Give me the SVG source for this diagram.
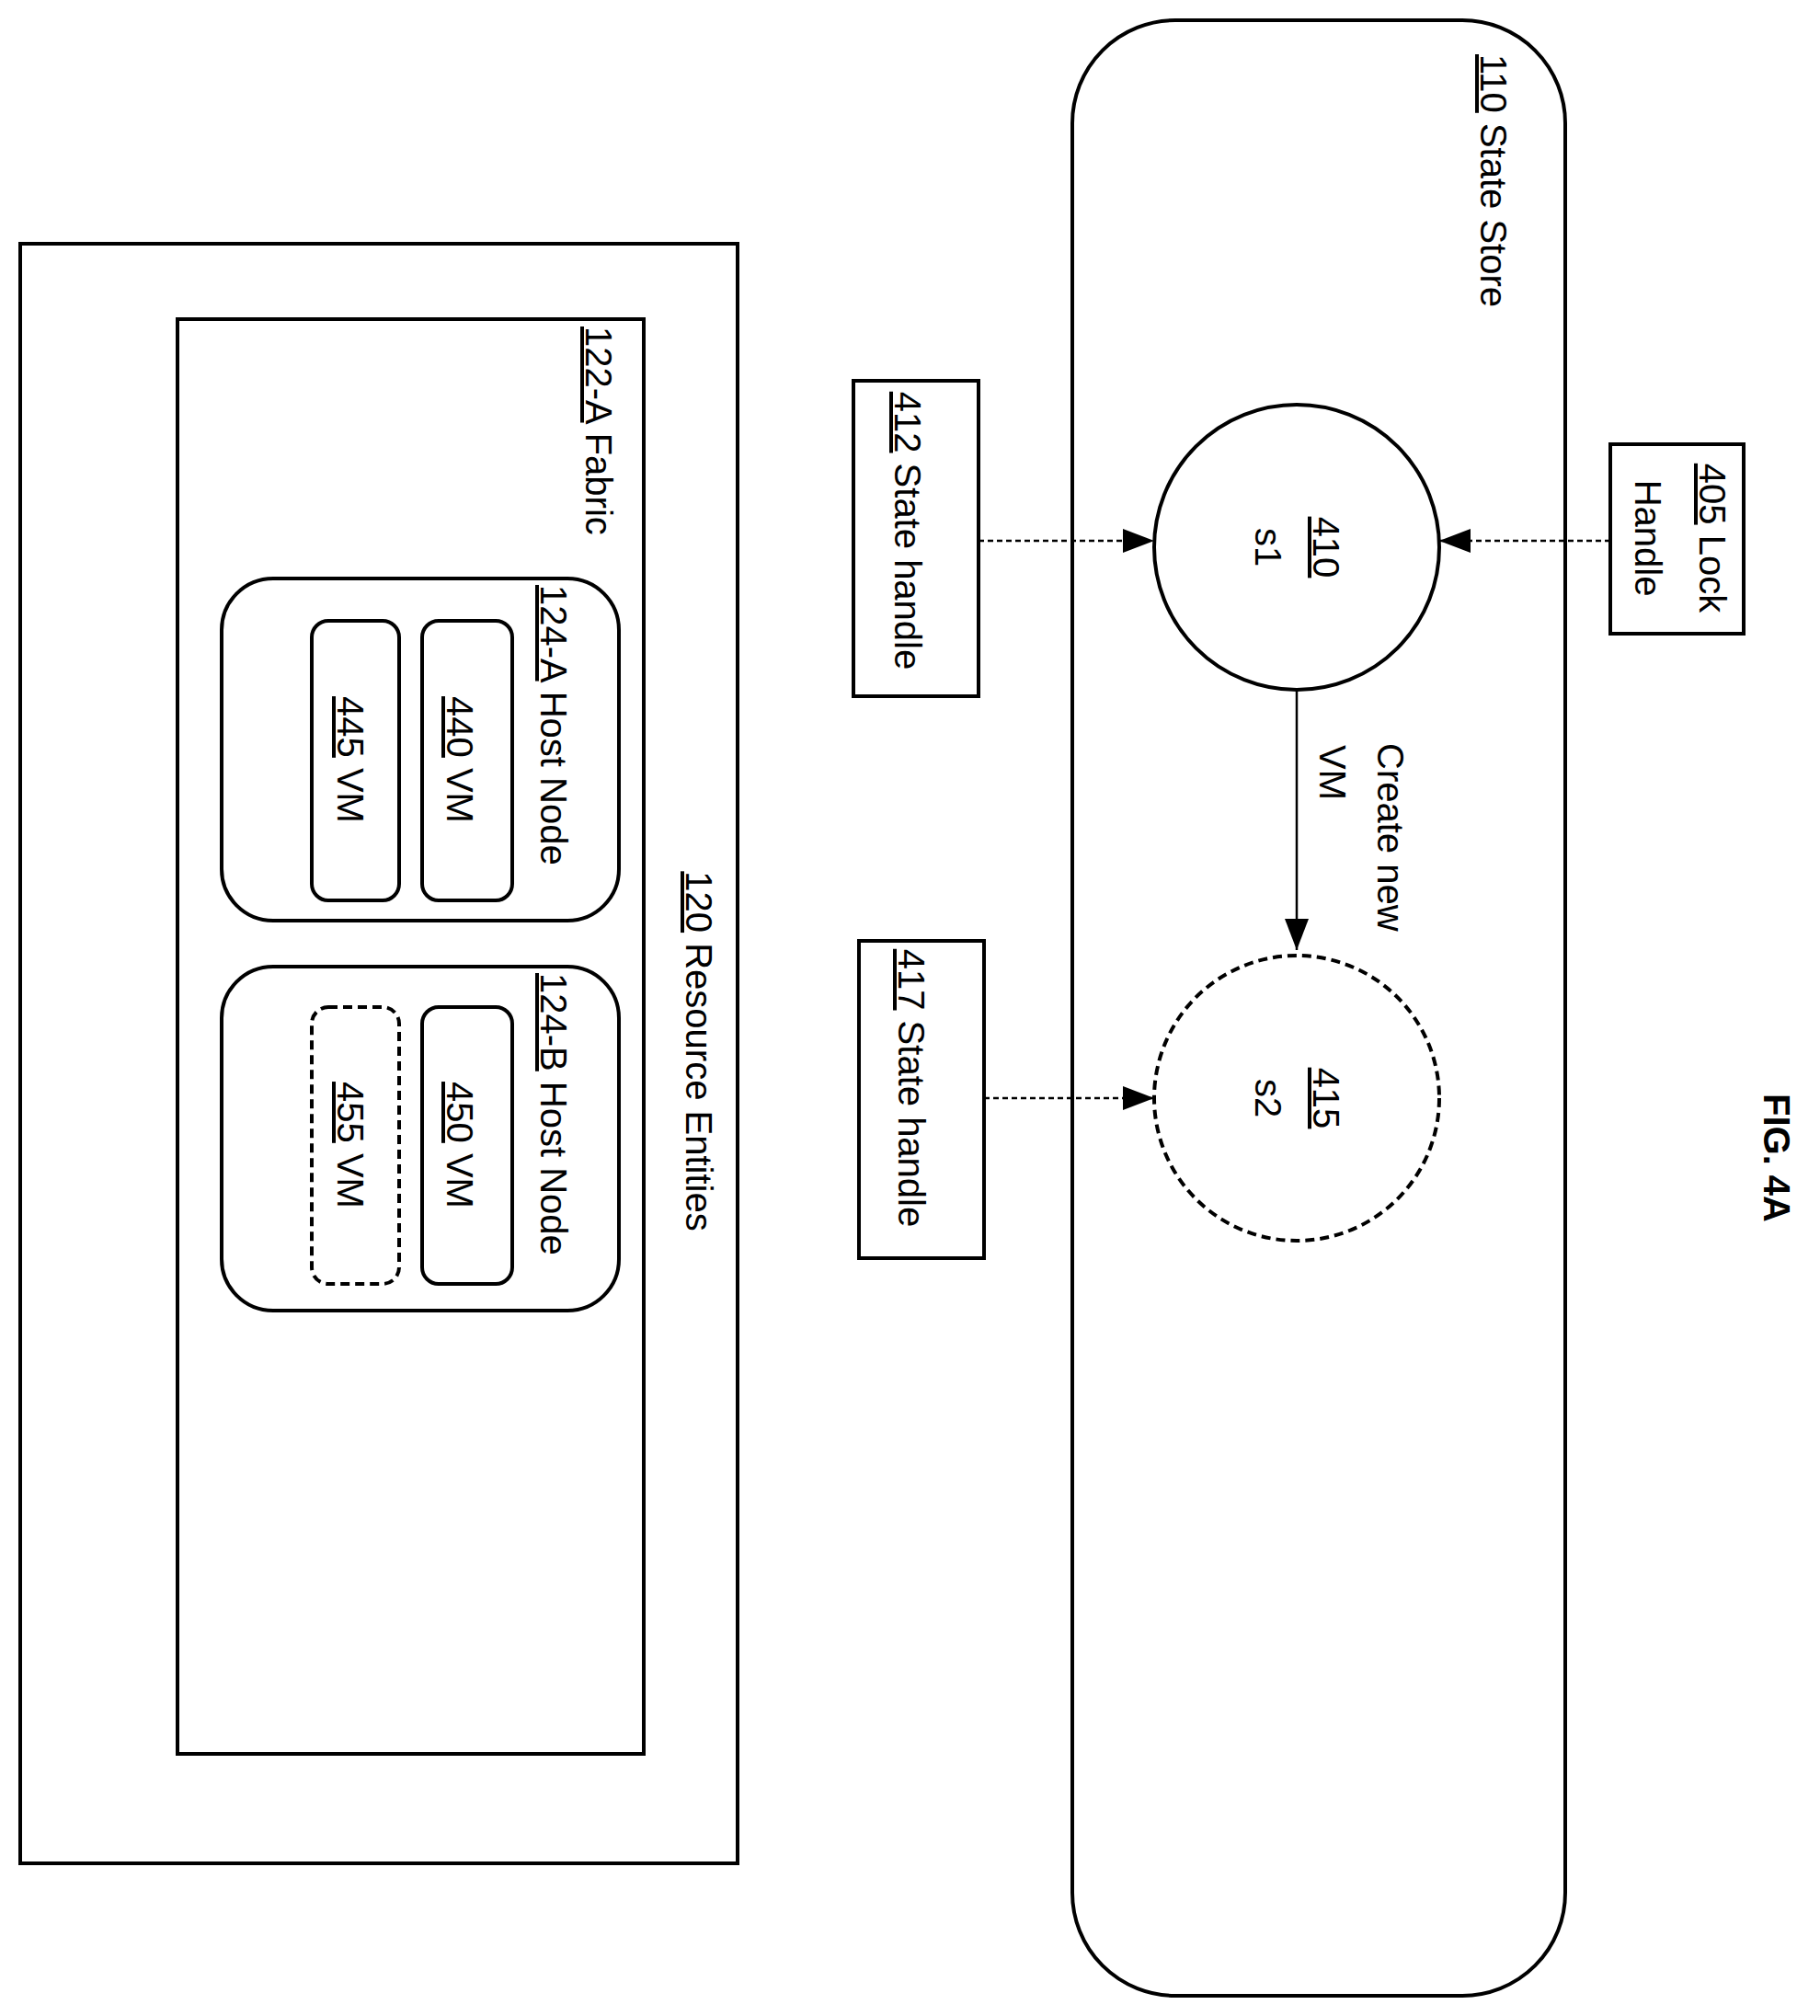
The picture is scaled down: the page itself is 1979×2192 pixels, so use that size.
<svg xmlns="http://www.w3.org/2000/svg" width="1979" height="2192" viewBox="0 0 1979 2192">
<defs>
<style>
.b{fill:none;stroke:#000;stroke-width:4}
.d{stroke-dasharray:10 6}
.t{font-family:"Liberation Sans",Arial,sans-serif;font-size:40px;fill:#000}
.u{text-decoration:underline}
.c{stroke:#000;stroke-width:2.5;fill:none}
</style>
<marker id="a" markerWidth="12" markerHeight="10" refX="12" refY="5" orient="auto" markerUnits="userSpaceOnUse" viewBox="0 0 12 10"><path d="M0,0L12,5L0,10z" fill="#000"/></marker>
<marker id="A" markerWidth="34" markerHeight="26" refX="34" refY="13" orient="auto" markerUnits="userSpaceOnUse" viewBox="0 0 34 26"><path d="M0,0L34,13L0,26z" fill="#000"/></marker>
</defs>
<rect width="1979" height="2192" fill="#fff"/>
<g id="n120"><rect class="b" x="22" y="265" width="780" height="1761"/>
<text class="t" transform="translate(746,1143) rotate(90)" text-anchor="middle"><tspan class="u">120</tspan> Resource Entities</text></g>
<g id="n122A"><rect class="b" x="193" y="347" width="507" height="1560"/>
<text class="t" transform="translate(637,355) rotate(90)"><tspan class="u">122-A</tspan> Fabric</text></g>
<g id="n124A"><rect class="b" x="241" y="629" width="432" height="372" rx="56"/>
<text class="t" transform="translate(588,636) rotate(90)"><tspan class="u">124-A</tspan> Host Node</text></g>
<g id="n440"><rect class="b" x="459" y="675" width="98" height="304" rx="18"/>
<text class="t" transform="translate(486,826) rotate(90)" text-anchor="middle"><tspan class="u">440</tspan> VM</text></g>
<g id="n445"><rect class="b" x="339" y="675" width="95" height="304" rx="18"/>
<text class="t" transform="translate(367,826) rotate(90)" text-anchor="middle"><tspan class="u">445</tspan> VM</text></g>
<g id="n124B"><rect class="b" x="241" y="1051" width="432" height="374" rx="56"/>
<text class="t" transform="translate(588,1058) rotate(90)"><tspan class="u">124-B</tspan> Host Node</text></g>
<g id="n450"><rect class="b" x="459" y="1095" width="98" height="301" rx="18"/>
<text class="t" transform="translate(486,1245) rotate(90)" text-anchor="middle"><tspan class="u">450</tspan> VM</text></g>
<g id="n455"><rect class="b d" x="339" y="1095" width="95" height="301" rx="18"/>
<text class="t" transform="translate(367,1245) rotate(90)" text-anchor="middle"><tspan class="u">455</tspan> VM</text></g>
<g id="n110"><rect class="b" x="1166" y="22" width="536" height="2148" rx="112"/>
<text class="t" transform="translate(1610,59) rotate(90)"><tspan class="u">110</tspan> State Store</text></g>
<g id="n410"><circle class="b" cx="1410" cy="595" r="155"/>
<text class="t" transform="translate(1428,595) rotate(90)" text-anchor="middle"><tspan class="u">410</tspan></text>
<text class="t" transform="translate(1365,595) rotate(90)" text-anchor="middle">s1</text></g>
<g id="n415"><circle class="b d" cx="1410" cy="1194" r="155"/>
<text class="t" transform="translate(1428,1194) rotate(90)" text-anchor="middle"><tspan class="u">415</tspan></text>
<text class="t" transform="translate(1365,1194) rotate(90)" text-anchor="middle">s2</text></g>
<g id="n412"><rect class="b" x="928" y="414" width="136" height="343"/>
<text class="t" transform="translate(973,577) rotate(90)" text-anchor="middle"><tspan class="u">412</tspan> State handle</text></g>
<g id="n417"><rect class="b" x="934" y="1023" width="136" height="345"/>
<text class="t" transform="translate(977,1183) rotate(90)" text-anchor="middle"><tspan class="u">417</tspan> State handle</text></g>
<g id="n405"><rect class="b" x="1751" y="483" width="145" height="206"/>
<text class="t" transform="translate(1848,585) rotate(90)" text-anchor="middle"><tspan class="u">405</tspan> Lock</text>
<text class="t" transform="translate(1778,585) rotate(90)" text-anchor="middle">Handle</text></g>
<g id="fig"><text class="t" font-weight="bold" font-size="42" transform="translate(1918,1259) rotate(90)" text-anchor="middle">FIG. 4A</text></g>
<g id="connectors">
<line class="c" stroke-dasharray="6 4" x1="1064" y1="588" x2="1255" y2="588" marker-end="url(#A)"/>
<line class="c" stroke-dasharray="6 4" x1="1751" y1="588" x2="1565" y2="588" marker-end="url(#A)"/>
<line class="c" stroke-dasharray="6 4" x1="1070" y1="1194" x2="1255" y2="1194" marker-end="url(#A)"/>
<line class="c" stroke-width="3" x1="1410" y1="750" x2="1410" y2="1033" marker-end="url(#A)"/>
<text class="t" transform="translate(1498,808) rotate(90)">Create new</text>
<text class="t" transform="translate(1435,810) rotate(90)">VM</text>
</g>
</svg>
